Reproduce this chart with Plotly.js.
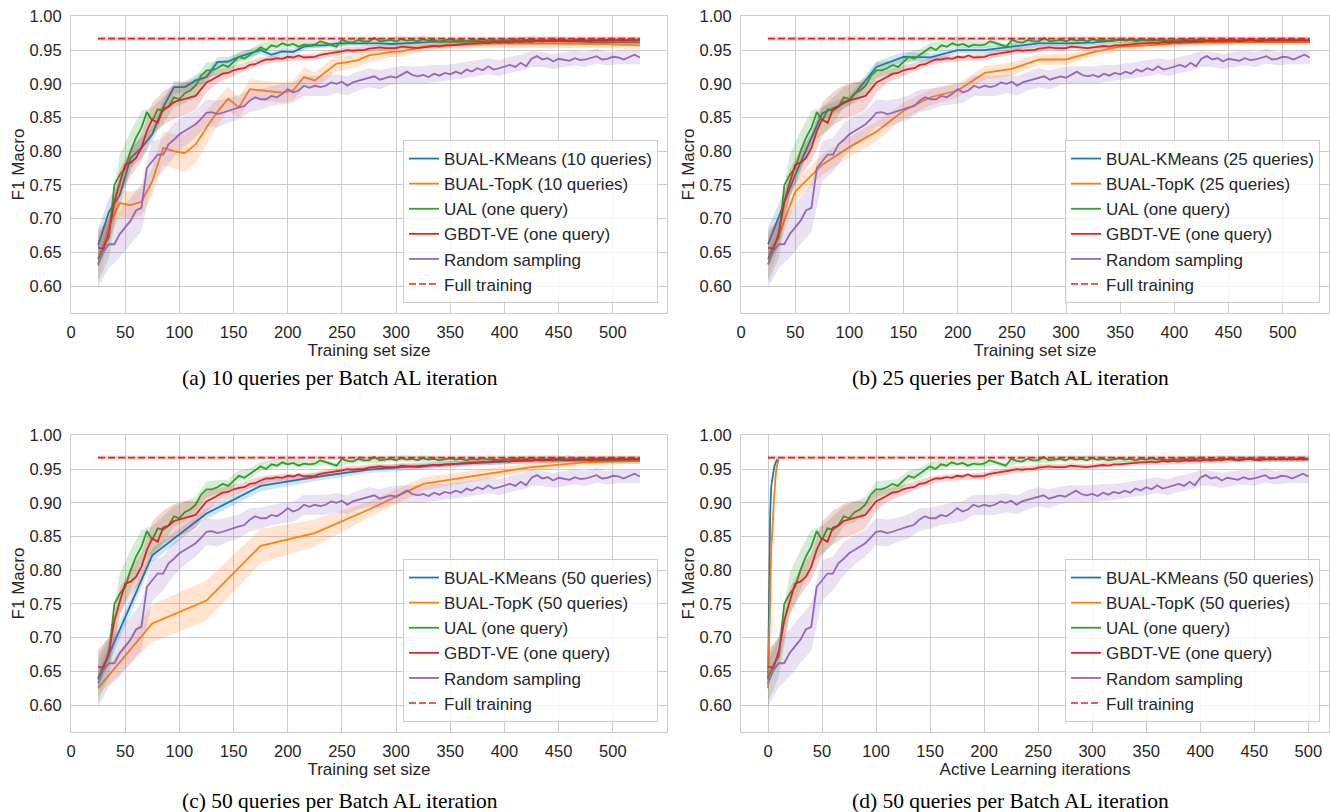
<!DOCTYPE html>
<html><head><meta charset="utf-8">
<script src="https://cdn.plot.ly/plotly-3.0.1.min.js"></script>
<style>html,body{margin:0;padding:0;background:#fff}#chart{width:1330px;height:812px}</style>
</head><body><div id="chart"></div>
<script>
// ---------------- DATA ----------------
const INIT_SIZE = 25;          // initial labelled set size
const ONE_Q_STEP = 5;          // iterations between stored readings of one-query curves
const BAND_STEP = 10;          // iterations between stored std readings
const FULL_F1 = 0.967;
const FULL_SD = 0.003;

// one-query curves, i = 0,5,...,500 AL iterations
const UAL = [0.640,0.660,0.672,0.750,0.765,0.775,0.800,0.820,0.835,0.858,0.845,0.862,0.860,0.866,0.880,0.877,0.886,0.890,0.897,0.912,0.920,
0.920,0.923,0.928,0.925,0.933,0.940,0.937,0.943,0.949,0.954,
0.950,0.957,0.955,0.960,0.957,0.959,0.955,0.958,0.957,0.958,
0.963,0.960,0.958,0.955,0.965,0.962,0.961,0.965,0.963,0.963,
0.968,0.963,0.964,0.965,0.963,0.966,0.964,0.965,0.963,0.966,
0.964,0.965,0.963,0.965,0.966,0.964,0.965,0.963,0.965,0.964,
0.966,0.964,0.965,0.963,0.965,0.964,0.966,0.964,0.965,0.966,
0.964,0.965,0.964,0.966,0.964,0.965,0.964,0.965,0.966,0.964,
0.965,0.964,0.965,0.964,0.966,0.964,0.965,0.964,0.965,0.964];
const GBDT = [0.657,0.655,0.680,0.725,0.753,0.780,0.783,0.790,0.805,0.830,0.847,0.842,0.863,0.866,0.873,0.875,0.878,0.880,0.882,0.892,0.902,
0.906,0.911,0.915,0.916,0.920,0.922,0.923,0.928,0.929,0.933,
0.936,0.936,0.938,0.937,0.940,0.939,0.942,0.939,0.940,0.940,
0.943,0.944,0.946,0.946,0.948,0.950,0.949,0.950,0.950,0.952,
0.953,0.954,0.953,0.953,0.953,0.955,0.954,0.954,0.953,0.954,
0.955,0.956,0.955,0.957,0.957,0.958,0.959,0.959,0.960,0.960,
0.961,0.960,0.962,0.961,0.962,0.961,0.963,0.962,0.963,0.962,
0.964,0.963,0.964,0.963,0.965,0.964,0.963,0.964,0.965,0.964,
0.963,0.965,0.964,0.965,0.964,0.965,0.964,0.965,0.964,0.965];
const RANDOM = [0.632,0.652,0.662,0.662,0.677,0.687,0.697,0.712,0.716,0.775,0.785,0.795,0.795,0.810,0.817,0.825,0.830,0.835,0.840,0.848,0.857,
0.858,0.855,0.857,0.860,0.862,0.865,0.867,0.875,0.880,0.877,
0.877,0.882,0.880,0.885,0.892,0.887,0.890,0.897,0.894,0.897,
0.895,0.897,0.902,0.900,0.903,0.897,0.902,0.904,0.906,0.909,
0.911,0.906,0.909,0.911,0.909,0.913,0.918,0.913,0.911,0.913,
0.910,0.915,0.912,0.916,0.914,0.918,0.915,0.921,0.918,0.923,
0.920,0.926,0.921,0.923,0.926,0.928,0.925,0.931,0.926,0.937,
0.941,0.936,0.938,0.933,0.937,0.936,0.934,0.938,0.935,0.936,
0.939,0.941,0.936,0.937,0.940,0.939,0.936,0.939,0.943,0.939];
// std, i = 0,10,...,500
const UAL_SD = [0.035,0.03,0.03,0.03,0.025,0.02,0.02,0.015,0.015,0.012,0.012,0.01,0.01,0.008,0.008,0.007,0.007,0.006,0.006,0.005,0.005,
0.004,0.004,0.004,0.004,0.004,0.004,0.004,0.004,0.004,0.004,0.004,0.004,0.004,0.004,0.004,0.004,0.004,0.004,0.004,0.004,0.004,0.004,0.004,0.004,0.004,0.004,0.004,0.004,0.004,0.004];
const GBDT_SD = [0.025,0.02,0.02,0.02,0.02,0.025,0.025,0.025,0.025,0.02,0.015,0.01,0.008,0.007,0.006,0.006,0.005,0.005,0.005,0.005,0.005,0.005,0.005,0.005,0.005,0.005,
0.004,0.004,0.004,0.004,0.004,0.004,0.004,0.004,0.004,0.004,0.004,0.004,0.004,0.004,0.004,0.004,0.004,0.004,0.004,0.004,0.004,0.004,0.004,0.004,0.004];
const RANDOM_SD = [0.035,0.035,0.035,0.035,0.035,0.03,0.025,0.025,0.022,0.02,0.02,0.02,0.018,0.018,0.017,0.016,0.015,0.015,0.015,0.015,0.015,
0.015,0.014,0.014,0.014,0.014,0.014,0.013,0.013,0.013,0.013,0.013,0.012,0.012,0.012,0.012,0.012,0.012,0.012,0.012,0.012,
0.011,0.011,0.011,0.011,0.011,0.011,0.01,0.01,0.01,0.01];

// batch curves: one value per Batch AL iteration
const KM10 = [0.660,0.710,0.735,0.790,0.805,0.825,0.865,0.895,0.895,0.905,0.910,0.932,0.933,0.940,0.945,0.950,0.943,0.948,0.947,0.955,0.957,0.957,0.960,0.960,0.961,0.960,0.960,0.959,0.960,0.961,0.961,0.962,0.962,0.962,0.963,0.963,0.963,0.964,0.964,0.964,0.964,0.963,0.963,0.963,0.963,0.962,0.962,0.962,0.961,0.961,0.961];
const KM10_SD = [0.025,0.02,0.02,0.015,0.015,0.012,0.01,0.01,0.008,0.008,0.008,0.007,0.007,0.006,0.006,0.006,0.005,0.005,0.005,0.005,
0.004,0.004,0.004,0.004,0.004,0.004,0.004,0.004,0.004,0.004,0.004,0.004,0.004,0.004,0.004,0.004,0.004,0.004,0.004,0.004,0.004,0.004,0.004,0.004,0.004,0.004,0.004,0.004,0.004,0.004,0.004];
const TK10 = [0.630,0.690,0.723,0.720,0.725,0.755,0.805,0.800,0.797,0.810,0.835,0.858,0.878,0.865,0.892,0.890,0.888,0.887,0.890,0.910,0.905,0.918,0.930,0.932,0.935,0.942,0.945,0.947,0.948,0.952,0.955,0.956,0.957,0.958,0.958,0.959,0.960,0.960,0.960,0.960,0.960,0.960,0.960,0.959,0.960,0.960,0.959,0.959,0.958,0.957,0.957];
const TK10_SD = [0.02,0.02,0.02,0.02,0.02,0.02,0.025,0.025,0.028,0.028,0.025,0.02,0.018,0.015,0.015,0.015,0.015,0.015,0.015,0.015,0.012,0.012,0.012,0.01,0.01,0.01,0.01,0.008,0.008,0.008,
0.006,0.006,0.006,0.006,0.006,0.006,0.006,0.006,0.006,0.006,0.006,0.006,0.006,0.006,0.006,0.006,0.006,0.006,0.006,0.006,0.006];
const KM25 = [0.662,0.765,0.856,0.875,0.925,0.940,0.939,0.950,0.950,0.955,0.960,0.960,0.961,0.965,0.965,0.964,0.963,0.963,0.963,0.963,0.962];
const KM25_SD = [0.025,0.012,0.01,0.008,0.008,0.007,0.006,0.005,0.005,0.005,0.005,0.004,0.004,0.004,0.004,0.004,0.004,0.004,0.004,0.004,0.004];
const TK25 = [0.632,0.740,0.780,0.806,0.829,0.860,0.880,0.890,0.916,0.922,0.936,0.936,0.947,0.955,0.957,0.960,0.961,0.962,0.962,0.962,0.962];
const TK25_SD = [0.02,0.015,0.015,0.015,0.015,0.012,0.012,0.01,0.01,0.01,0.008,0.008,0.006,0.006,0.005,0.005,0.005,0.004,0.004,0.004,0.004];
const KM50 = [0.638,0.822,0.884,0.925,0.938,0.949,0.955,0.959,0.963,0.963,0.962];
const KM50_SD = [0.015,0.01,0.008,0.008,0.006,0.005,0.005,0.004,0.004,0.004,0.004];
const TK50 = [0.625,0.721,0.755,0.836,0.855,0.890,0.928,0.940,0.953,0.960,0.962];
const TK50_SD = [0.01,0.028,0.03,0.025,0.02,0.012,0.01,0.008,0.006,0.005,0.004];

const X_TICKS = [0,50,100,150,200,250,300,350,400,450,500];
const Y_TICKS = [0.60,0.65,0.70,0.75,0.80,0.85,0.90,0.95,1.00];

// ---------------- STYLE ----------------
const W = 1330, H = 812;
const SANS = 'Liberation Sans, Arial, Helvetica, sans-serif';
const SERIF = 'Liberation Serif, Times New Roman, serif';
const TXT = '#262626';
const GRID = '#cccccc';
const C = {blue:'#1f77b4', orange:'#ff7f0e', green:'#2ca02c', red:'#d62728', purple:'#9467bd'};
function rgba(hex, a){const n=parseInt(hex.slice(1),16);return `rgba(${n>>16},${(n>>8)&255},${n&255},${a})`;}

const PANELS = [
  {n:1, left:71, right:667, top:16, bottom:313, xrange:[0,550], mode:'size', batch:10, km:KM10, kmsd:KM10_SD, tk:TK10, tksd:TK10_SD,
   xtitle:'Training set size', caption:'(a) 10 queries per Batch AL iteration', capx:340, capy:378},
  {n:2, left:741, right:1329, top:16, bottom:313, xrange:[0,(1329-741)/1.0834], mode:'size', batch:25, km:KM25, kmsd:KM25_SD, tk:TK25, tksd:TK25_SD,
   xtitle:'Training set size', caption:'(b) 25 queries per Batch AL iteration', capx:1010, capy:378},
  {n:3, left:71, right:667, top:435, bottom:732, xrange:[0,550], mode:'size', batch:50, km:KM50, kmsd:KM50_SD, tk:TK50, tksd:TK50_SD,
   xtitle:'Training set size', caption:'(c) 50 queries per Batch AL iteration', capx:340, capy:801},
  {n:4, left:741, right:1329, top:435, bottom:732, xrange:[-25,-25+(1329-741)/1.0806], mode:'iter', batch:50, km:KM50, kmsd:KM50_SD, tk:TK50, tksd:TK50_SD,
   xtitle:'Active Learning iterations', caption:'(d) 50 queries per Batch AL iteration', capx:1010, capy:801}
];

const traces = [];
const layout = {
  width:W, height:H, margin:{l:0,r:0,t:0,b:0}, paper_bgcolor:'#ffffff', plot_bgcolor:'#ffffff',
  showlegend:true, annotations:[], font:{family:SANS, color:TXT}
};

function band(x, mean, sd, color, xa, ya){
  const up = mean.map((m,k)=>m+sd[k]);
  const lo = mean.map((m,k)=>m-sd[k]);
  return {type:'scatter', mode:'lines', x:x.concat(x.slice().reverse()), y:up.concat(lo.slice().reverse()),
    fill:'toself', fillcolor:rgba(color,0.2), line:{width:0}, hoverinfo:'skip', showlegend:false, xaxis:xa, yaxis:ya};
}
function line(x, y, color, name, xa, ya, leg, dash, w){
  return {type:'scatter', mode:'lines', x:x, y:y, name:name, line:{color:color, width:w||1.8, dash:dash||'solid'},
    xaxis:xa, yaxis:ya, legend:leg, showlegend:true};
}

PANELS.forEach(p=>{
  const xa = p.n===1?'x':'x'+p.n, ya = p.n===1?'y':'y'+p.n, leg = p.n===1?'legend':'legend'+p.n;
  const off = p.mode==='size' ? INIT_SIZE : 0;
  const xq = UAL.map((_,k)=> off + k*ONE_Q_STEP);
  const xb = UAL_SD.map((_,k)=> off + k*BAND_STEP);
  const pick = arr => UAL_SD.map((_,k)=> arr[k*BAND_STEP/ONE_Q_STEP]);
  const xk = p.km.map((_,k)=> p.mode==='size' ? INIT_SIZE + k*p.batch : k);
  const q = `(${p.batch} queries)`;
  traces.push(band(xk, p.km, p.kmsd, C.blue, xa, ya));
  traces.push(line(xk, p.km, C.blue, 'BUAL-KMeans '+q, xa, ya, leg));
  traces.push(band(xk, p.tk, p.tksd, C.orange, xa, ya));
  traces.push(line(xk, p.tk, C.orange, 'BUAL-TopK '+q, xa, ya, leg));
  traces.push(band(xb, pick(UAL), UAL_SD, C.green, xa, ya));
  traces.push(line(xq, UAL, C.green, 'UAL (one query)', xa, ya, leg));
  traces.push(band(xb, pick(GBDT), GBDT_SD, C.red, xa, ya));
  traces.push(line(xq, GBDT, C.red, 'GBDT-VE (one query)', xa, ya, leg));
  traces.push(band(xb, pick(RANDOM), RANDOM_SD, C.purple, xa, ya));
  traces.push(line(xq, RANDOM, C.purple, 'Random sampling', xa, ya, leg));
  const xf = [xq[0], xq[xq.length-1]];
  traces.push(band(xf, [FULL_F1,FULL_F1], [FULL_SD,FULL_SD], C.red, xa, ya));
  traces.push(line(xf, [FULL_F1,FULL_F1], C.red, 'Full training', xa, ya, leg, '7px,3px', 1.6));

  const axCommon = {showgrid:true, gridcolor:GRID, gridwidth:1, zeroline:false, showline:true, mirror:true,
    linecolor:GRID, linewidth:1, ticks:'', automargin:false, tickfont:{family:SANS, size:16.5, color:TXT}};
  layout['xaxis'+(p.n===1?'':p.n)] = Object.assign({}, axCommon, {
    domain:[p.left/W, p.right/W], anchor:ya, range:p.xrange, tickmode:'array', tickvals:X_TICKS,
    ticklabelstandoff:4,
    title:{text:p.xtitle, font:{family:SANS, size:17, color:TXT}, standoff:0}
  });
  layout['yaxis'+(p.n===1?'':p.n)] = Object.assign({}, axCommon, {
    domain:[1-p.bottom/H, 1-p.top/H], anchor:xa, range:[0.56,1.0005], tickmode:'array', tickvals:Y_TICKS,
    tickformat:'.2f', ticklabelstandoff:5,
    title:{text:'F1 Macro', font:{family:SANS, size:17, color:TXT}, standoff:0}
  });
  layout[leg] = {x:(p.right-9)/W, xanchor:'right', y:1-(p.bottom-10)/H, yanchor:'bottom',
    bgcolor:'rgba(255,255,255,0.8)', bordercolor:GRID, borderwidth:1,
    font:{family:SANS, size:17, color:TXT}, tracegroupgap:0, itemclick:false, itemdoubleclick:false};
  layout.annotations.push({text:p.caption, xref:'paper', yref:'paper', x:p.capx/W, y:1-p.capy/H,
    xanchor:'center', yanchor:'middle', showarrow:false, font:{family:SERIF, size:21.5, color:'#000000'}});
});

Plotly.newPlot('chart', traces, layout, {staticPlot:true, displayModeBar:false});
</script>
</body></html>
